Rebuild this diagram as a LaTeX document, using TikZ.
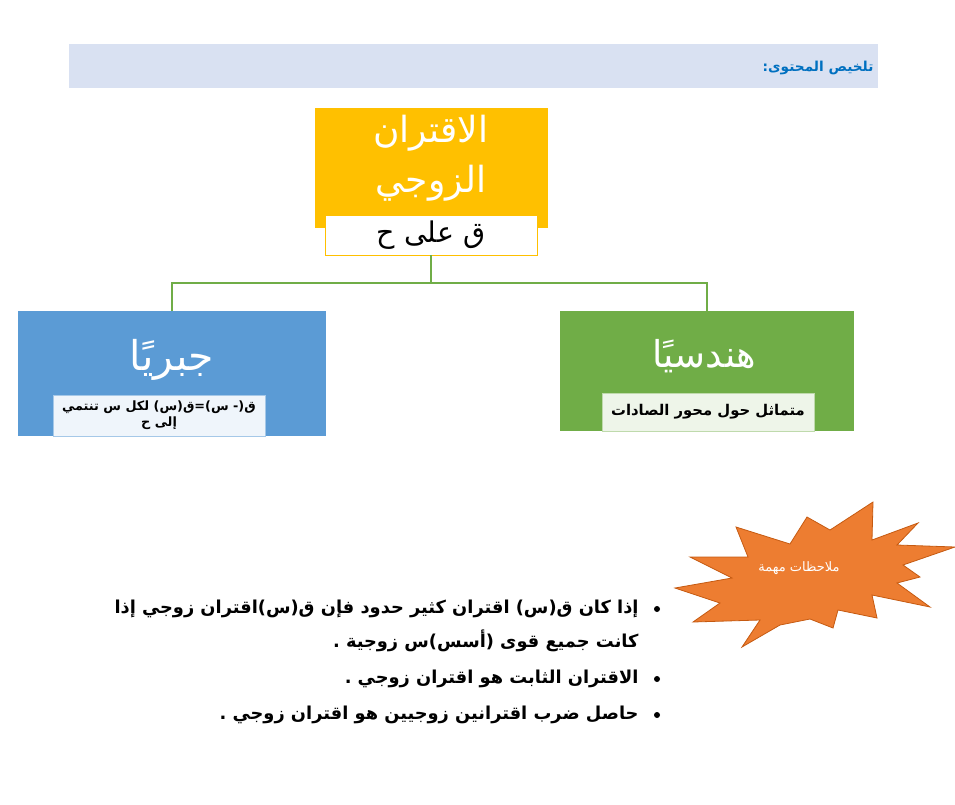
\documentclass[tikz,border=0pt]{standalone}
\usepackage{fontspec}
\usepackage{tikz}
\usetikzlibrary{positioning}
\TeXXeTstate=1
\newfontfamily\arabicfont[Script=Arabic]{DejaVu Sans}
\definecolor{HeaderBand}{HTML}{D9E1F2}
\definecolor{HeaderBlue}{HTML}{0070C0}
\definecolor{GoldBox}{HTML}{FFC000}
\definecolor{BlueBox}{HTML}{5B9BD5}
\definecolor{GreenBox}{HTML}{70AD47}
\definecolor{StarOrange}{HTML}{ED7D31}
\definecolor{StarEdge}{HTML}{C55A11}
\newcommand{\rtltext}[1]{\beginR #1\endR}

\begin{document}
\begin{tikzpicture}[x=1pt,y=-1pt,
    panel/.style={inner sep=0pt},
    subpanel/.style={inner sep=0pt,minimum width=212pt,
      font=\arabicfont\bfseries\fontsize{#1}{16}\selectfont,align=center},
    bigword/.style={text=white,font=\arabicfont\fontsize{#1}{50}\selectfont,align=center},
    link/.style={GreenBox,line width=1.2pt},
    note/.style={anchor=east,font=\arabicfont\bfseries\fontsize{17.8}{20}\selectfont},
    dot/.style={circle,fill=black,inner sep=0pt,minimum size=6pt}]
  \useasboundingbox (0,0) rectangle (955,804);
  % header
  \node[panel,fill=HeaderBand,minimum width=809pt,minimum height=44pt,anchor=north west] (band) at (69,44) {};
  \node[anchor=east,text=HeaderBlue,font=\arabicfont\bfseries\fontsize{13.7}{16}\selectfont] (heading) at (877,68) {\rtltext{تلخيص المحتوى:}};
  % the even function box
  \node[panel,fill=GoldBox,minimum width=233pt,minimum height=120pt] (even) at (431.5,168) {};
  \node[bigword=36] (evenTitle) at (431,158) {\rtltext{الاقتران}\\\rtltext{الزوجي}};
  \node[panel,draw=GoldBox,fill=white,minimum width=212pt,minimum height=40pt,
        font=\arabicfont\fontsize{28.5}{30}\selectfont] (evenSub) at (431,235) {\rtltext{ق على ح}};
  % algebraic / geometric
  \node[panel,fill=BlueBox,minimum width=308pt,minimum height=125pt] (algebraic) at (172,373.5) {};
  \node[bigword=41] (algebraicTitle) at (172,360) {\rtltext{جبريًا}};
  \node[subpanel=12.8,draw=BlueBox!55,fill=BlueBox!10,minimum height=41pt] (algebraicSub) at (159,415.5)
    {\rtltext{ق(- س)=ق(س) لكل س تنتمي}\\\rtltext{إلى ح}};
  \node[panel,fill=GreenBox,minimum width=294pt,minimum height=120pt] (geometric) at (707,371) {};
  \node[bigword=37] (geometricTitle) at (704,356) {\rtltext{هندسيًا}};
  \node[subpanel=14.8,draw=GreenBox!45,fill=GreenBox!12,minimum height=38pt] (geometricSub) at (708,412)
    {\rtltext{متماثل حول محور الصادات}};
  % connectors
  \coordinate (split) at (431,283);
  \draw[link] (evenSub.south) -- (split);
  \draw[link] (split) -| (algebraic.north);
  \draw[link] (split) -| (geometric.north);
  % notes burst
  \draw[fill=StarOrange,draw=StarEdge,line width=0.8pt]
    (807,517) -- (830,530) -- (873,502) -- (872,540) -- (918,523) -- (897,545) -- (955,547)
    -- (903,565) -- (920,577) -- (897,583) -- (930,607) -- (872,595) -- (877,618) -- (838,610)
    -- (833,628) -- (810,619) -- (780,625) -- (742,647) -- (760,620) -- (693,622) -- (720,603)
    -- (675,588) -- (732,578) -- (690,557) -- (748,557) -- (736,527) -- (790,544) -- cycle;
  \node[text=white,font=\arabicfont\fontsize{13}{15}\selectfont] (notes) at (799,568) {\rtltext{ملاحظات مهمة}};
  % bullet list
  \node[dot] (dotA) at (657,609) {};
  \node[note] (noteA) at (642,609) {\rtltext{إذا كان ق(س) اقتران كثير حدود فإن ق(س)اقتران زوجي إذا}};
  \node[note] (noteAmore) at (642,641) {\rtltext{كانت جميع قوى (أسس)س زوجية .}};
  \node[dot] (dotB) at (657,679) {};
  \node[note] (noteB) at (642,679) {\rtltext{الاقتران الثابت هو اقتران زوجي .}};
  \node[dot] (dotC) at (657,715) {};
  \node[note] (noteC) at (642,715) {\rtltext{حاصل ضرب اقترانين زوجيين هو اقتران زوجي .}};
\end{tikzpicture}
\end{document}
